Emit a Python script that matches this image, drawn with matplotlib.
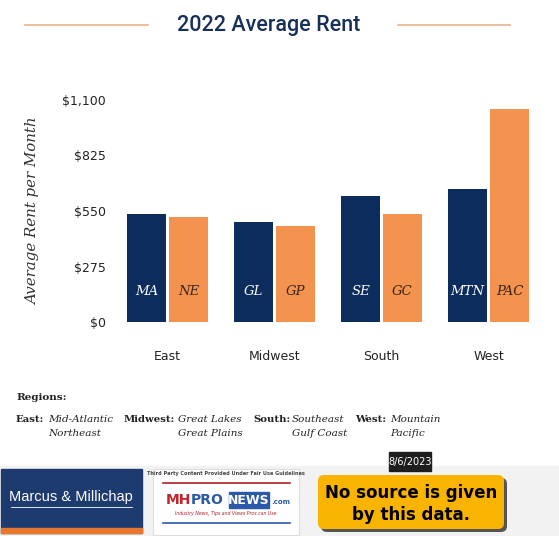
import numpy as np
import matplotlib.pyplot as plt
from matplotlib.patches import Rectangle, FancyBboxPatch

# data
regions = ["East", "Midwest", "South", "West"]
first_codes = ["MA", "GL", "SE", "MTN"]
second_codes = ["NE", "GP", "GC", "PAC"]
first_rent = [535, 495, 624, 659]
second_rent = [520, 476, 535, 1055]
yticks = [0, 275, 550, 825, 1100]
ytick_labels = ["$0", "$275", "$550", "$825", "$1,100"]

navy = "#0b2c5c"
orange = "#f4924f"
W, H = 559, 536

fig = plt.figure(figsize=(W / 100, H / 100), dpi=100)

# background / decoration layer in pixel coordinates
deco = fig.add_axes([0, 0, 1, 1])
deco.set_xlim(0, W)
deco.set_ylim(H, 0)
deco.axis("off")

# title and rules
deco.text(269, 25, "2022 Average Rent", ha="center", va="center",
          fontsize=15.5, color="#16305a", family="Roboto", fontweight="medium")
deco.plot([25, 148], [25, 25], color="#e9b48b", lw=1.2)
deco.plot([398, 510], [25, 25], color="#e9b48b", lw=1.2)

# y axis label
deco.text(33, 211, "Average Rent per Month", rotation=90, ha="center", va="center",
          fontsize=10.8, style="italic", family="DejaVu Serif", color="#333333")

# main bars
ax = fig.add_axes([114 / W, 1 - 322 / H, 428 / W, 222 / H])
x = np.arange(len(regions))
bw = 39 / 107
off = 21 / 107
ax.bar(x - off, first_rent, width=bw, color=navy)
ax.bar(x + off, second_rent, width=bw, color=orange)
for xi, c1, c2 in zip(x, first_codes, second_codes):
    ax.text(xi - off, 149, c1, ha="center", va="center", color="white",
            fontsize=9.5, style="italic", family="DejaVu Serif")
    ax.text(xi + off, 149, c2, ha="center", va="center", color="#3a2614",
            fontsize=9.5, style="italic", family="DejaVu Serif")
ax.set_xlim(-0.5, 3.5)
ax.set_ylim(0, 1100)
ax.set_yticks(yticks)
ax.set_yticklabels(ytick_labels)
ax.set_xticks(x)
ax.set_xticklabels(regions)
ax.tick_params(axis="y", length=0, pad=6, labelsize=9, labelcolor="#222222")
ax.tick_params(axis="x", length=0, pad=20, labelsize=9, labelcolor="#222222")
for s in ax.spines.values():
    s.set_visible(False)
ax.patch.set_alpha(0)

# region legend
sf = "DejaVu Serif"
deco.text(16, 397, "Regions:", fontsize=7.5, fontweight="bold", family=sf,
          va="center", color="#222222")
legend_rows = [
    (16, 48, "East:", "Mid-Atlantic", "Northeast"),
    (124, 178, "Midwest:", "Great Lakes", "Great Plains"),
    (253, 292, "South:", "Southeast", "Gulf Coast"),
    (355, 390, "West:", "Mountain", "Pacific"),
]
for xb, xi, head, a, b in legend_rows:
    deco.text(xb, 419, head, fontsize=7.3, fontweight="bold", family=sf,
              va="center", color="#222222")
    deco.text(xi, 419, a, fontsize=7.5, style="italic", family=sf,
              va="center", color="#222222")
    deco.text(xi, 433, b, fontsize=7.5, style="italic", family=sf,
              va="center", color="#222222")

# bottom strip with badges
deco.add_patch(Rectangle((0, 466), W, 70, color="#f2f2f2", zorder=0))

# Marcus & Millichap box
deco.add_patch(Rectangle((1, 469), 141, 64, color="#1e3b70"))
deco.add_patch(Rectangle((1, 528), 141, 5, color="#e8772e"))
deco.text(71, 497, "Marcus & Millichap", ha="center", va="center",
          color="white", fontsize=10.5, family="Liberation Sans")
deco.plot([11, 132], [507, 507], color="white", lw=0.6)

# MHProNews box
deco.add_patch(Rectangle((153, 469), 146, 66, facecolor="white",
                         edgecolor="#dddddd", lw=0.8))
deco.text(226, 474, "Third Party Content Provided Under Fair Use Guidelines",
          ha="center", va="center", fontsize=3.6, fontweight="bold",
          color="#444444")
deco.plot([163, 290], [483, 483], color="#b21f24", lw=1.2)
deco.text(191, 500, "MH", ha="right", va="center", fontsize=10,
          fontweight="bold", color="#c3262c")
deco.text(191, 500, "PRO", ha="left", va="center", fontsize=10,
          fontweight="bold", color="#2a5aa8")
deco.add_patch(Rectangle((229, 492), 40, 16, color="#2a5aa8"))
deco.text(249, 500, "NEWS", ha="center", va="center", fontsize=9,
          fontweight="bold", color="white")
deco.text(271, 502, ".com", ha="left", va="center", fontsize=5,
          fontweight="bold", color="#2a5aa8")
deco.text(226, 513, "Industry News, Tips and Views Pros can Use",
          ha="center", va="center", fontsize=3.3, style="italic",
          color="#b21f24")
deco.plot([163, 290], [523, 523], color="#2a5aa8", lw=1.2)

# yellow note
deco.add_patch(FancyBboxPatch((321, 478), 186, 54,
                              boxstyle="round,pad=0,rounding_size=6",
                              facecolor="#555555", edgecolor="none"))
deco.add_patch(FancyBboxPatch((318, 475), 186, 54,
                              boxstyle="round,pad=0,rounding_size=6",
                              facecolor="#f8b400", edgecolor="none"))
deco.text(411, 493, "No source is given", ha="center", va="center",
          fontsize=12, fontweight="bold", color="black")
deco.text(411, 515, "by this data.", ha="center", va="center",
          fontsize=12, fontweight="bold", color="black")

# date stamp
deco.add_patch(Rectangle((389, 452), 42, 19, color="#1e1e1e"))
deco.text(410, 461.5, "8/6/2023", ha="center", va="center",
          fontsize=7, color="white")

fig.savefig("out.png", dpi=100)
